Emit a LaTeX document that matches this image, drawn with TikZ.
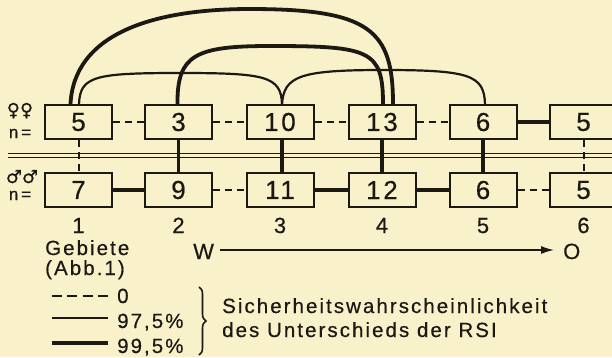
\documentclass[tikz,border=0pt]{standalone}
\usepackage{fontspec}
\setmainfont{Liberation Sans}[LetterSpace=10,FakeBold=0.5]
\newfontfamily\symfont{DejaVu Sans}[FakeBold=0.5]
\usetikzlibrary{arrows.meta,decorations.pathreplacing,calc}
\definecolor{paper}{HTML}{F8F1C9}
\definecolor{ink}{HTML}{1C1915}
\begin{document}
\begin{tikzpicture}[x=1pt,y=-1pt,color=ink,
  numbox/.style={draw,line width=2pt,minimum width=67pt,minimum height=34pt,
    inner sep=0pt,font=\fontsize{26}{26}\selectfont},
  nolink/.style={line width=2pt,dash pattern=on 7pt off 5pt},
  weak/.style={line width=2.2pt},
  strong/.style={line width=3.8pt},
  lbl/.style={inner sep=0pt,font=\fontsize{20.5}{20.5}\selectfont},
  colnum/.style={inner sep=0pt,anchor=base,font=\fontsize{22}{22}\selectfont},
  sym/.style={inner sep=0pt,text height=11pt,text depth=3pt,
    font=\symfont\fontsize{18}{18}\selectfont},
  nlbl/.style={inner sep=0pt,text height=9pt,text depth=0pt,
    font=\fontsize{17}{17}\selectfont}]
\fill[paper] (0,0) rectangle (612,357);
\useasboundingbox (0,0) rectangle (612,357);

% rows of area values: females (top), males (bottom)
\foreach \i/\x/\v in {1/78.5/5,2/178.5/3,3/280/10,4/382/13,5/483/6,6/583.5/5}
  \node[numbox] (t\i) at (\x,122) {\v};
\foreach \i/\x/\v in {1/78.5/7,2/178.5/9,3/280/11,4/382/12,5/483/6,6/583.5/5}
  \node[numbox] (b\i) at (\x,190) {\v};

% separating double rule
\coordinate (r1) at (8,153.5); \coordinate (r1e) at (612,153.5);
\coordinate (r2) at (8,157.5); \coordinate (r2e) at (612,157.5);
\draw[line width=1.2pt] (r1) -- (r1e) (r2) -- (r2e);

% neighbours along each row
\draw[nolink] (t1) -- (t2);
\draw[nolink] (t2) -- (t3);
\draw[nolink] (t3) -- (t4);
\draw[nolink] (t4) -- (t5);
\draw[strong] (t5) -- (t6);
\draw[strong] (b1) -- (b2);
\draw[nolink] (b2) -- (b3);
\draw[strong] (b3) -- (b4);
\draw[strong] (b4) -- (b5);
\draw[nolink] (b5) -- (b6);

% females vs. males in the same area
\draw[nolink] (t1) -- (b1);
\draw[weak] (t2) -- (b2);
\draw[strong] (t3.south) ++(2,0) coordinate (v3) (v3) -- (v3 |- b3.north);
\draw[strong] (t4) -- (b4);
\draw[strong] (t5) -- (b5);
\draw[nolink] (t6) -- (b6);

% arc end points on the upper boxes
\coordinate (a1o) at ($(t1.north)+(-8,0)$);
\coordinate (a1i) at ($(t1.north)+(0.5,0)$);
\coordinate (a2)  at ($(t2.north)+(-1,0)$);
\coordinate (a3)  at ($(t3.north)+(2,0)$);
\coordinate (a4i) at ($(t4.north)+(1,0)$);
\coordinate (a4o) at ($(t4.north)+(11,0)$);
\coordinate (a5)  at ($(t5.north)+(2,0)$);

% long-range comparisons
\draw[strong] (a1o) .. controls (74,35) and (150,9) .. (250,9)
                    .. controls (370,9) and (393,30) .. (a4o);
\draw[strong] (a2) .. controls (177,55) and (195,46) .. (270,46)
                   .. controls (370,46) and (383,50) .. (a4i);
\draw[weak] (a1i) .. controls (80,76) and (95,73) .. (180,73)
                  .. controls (265,73) and (281,76) .. (a3);
\draw[weak] (a3) .. controls (284,76) and (300,70) .. (383,70)
                 .. controls (470,70) and (484,75) .. (a5);

% row labels
\node[sym] (fsym) at (20,112) {♀♀};
\node[nlbl] (fn) at (20,133.5) {n\,=};
\node[sym] (msym) at (22,179) {♂♂};
\node[nlbl] (mn) at (20,195.5) {n\,=};

% area numbers
\foreach \i/\x in {1/78.5,2/178.5,3/280,4/382,5/483,6/583.5}
  \node[colnum] (c\i) at (\x,233) {\i};
\node[lbl,anchor=base west] (geb) at (45,255) {Gebiete};
\node[lbl,anchor=base west] (abb) at (45,275) {(Abb.1)};

% west to east
\node[lbl,anchor=base west,font=\fontsize{22}{22}\selectfont] (W) at (193,259) {W};
\node[lbl,anchor=base west,font=\fontsize{22}{22}\selectfont] (O) at (563,259) {O};
\draw[line width=1.4pt,-{Latex[length=13pt,width=8pt]},shorten <=6pt,shorten >=9pt]
  (W.east |- 0,250) coordinate (wa) (wa) -- (wa -| O.west);

% legend
\coordinate (l1a) at (52,296); \coordinate (l1b) at (108,296);
\coordinate (l2a) at (52,318); \coordinate (l2b) at (108,318);
\coordinate (l3a) at (52,343); \coordinate (l3b) at (108,343);
\draw[line width=2pt,dash pattern=on 10pt off 5.3pt] (l1a) -- (l1b);
\draw[weak] (l2a) -- (l2b);
\draw[strong] (l3a) -- (l3b);
\node[lbl,anchor=base west] (k1) at (117,303) {0};
\node[lbl,anchor=base west] (k2) at (117,328) {97,5\%};
\node[lbl,anchor=base west] (k3) at (117,353) {99,5\%};
\draw[line width=1.6pt,decorate,decoration={brace,amplitude=7pt}] (199,287) -- (199,355);
\node[lbl,anchor=base west] (s1) at (222,313) {Sicherheitswahrscheinlichkeit};
\node[lbl,anchor=base west] (s2) at (222,337) {des Unterschieds der RSI};
\end{tikzpicture}
\end{document}
